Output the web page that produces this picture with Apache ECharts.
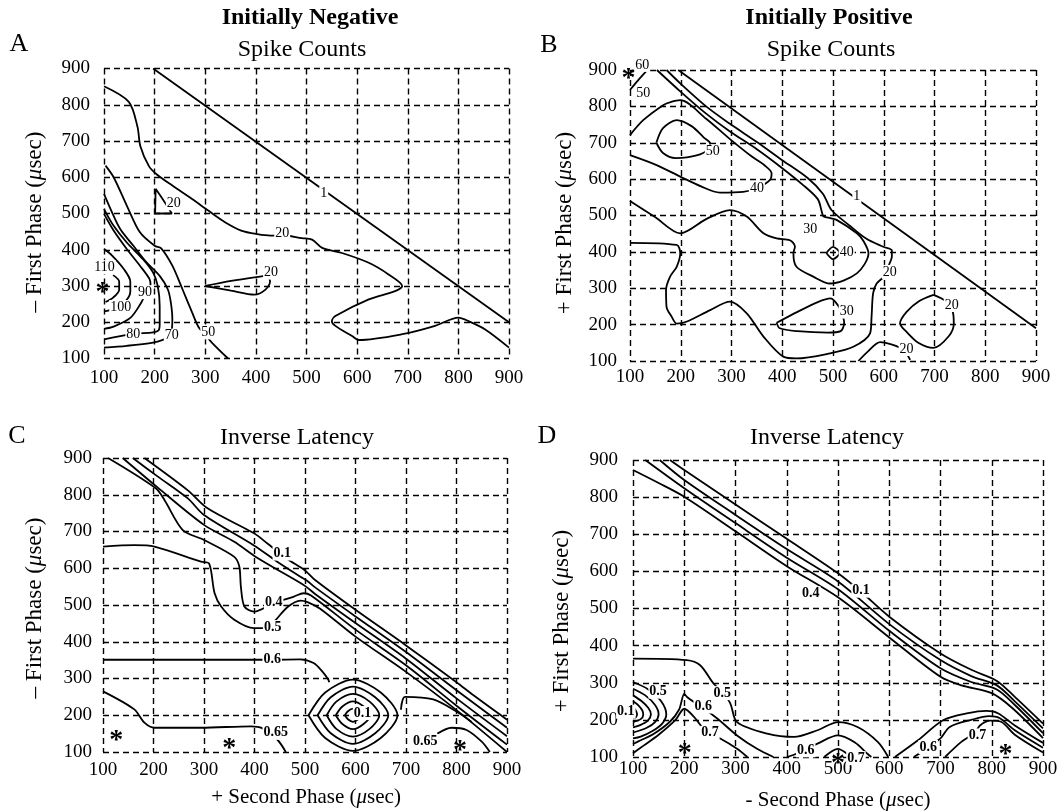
<!DOCTYPE html>
<html>
<head>
<meta charset="utf-8">
<title>Spike counts and inverse latency</title>
<style>
    * { margin: 0; padding: 0; }
    html, body { background: #fff; }
    #main { width: 1061px; height: 812px; }
</style>
</head>
<body>
<div id="main"></div>
<script src="https://cdn.jsdelivr.net/npm/echarts@6.0.0/dist/echarts.min.js"></script>
<script>
// axis ticks (both axes, all panels), in usec
var tickValues = [100, 200, 300, 400, 500, 600, 700, 800, 900];

// ---- A: initially negative, spike counts ----
var aLevel1 = [[197,900],[900,200]];
var aLevel20 = [[100,851],[149,808],[166,740],[172,685],[189,630],[205,607],[235,577],[274,540],[306,508],[339,476],[371,453],[403,443],[429,439],[452,440],[491,432],[511,428],[531,405],[570,391],[623,364],[662,332],[689,300],[675,286],[623,263],[557,217],[550,203],[557,190],[590,162],[603,151],[689,167],[754,190],[800,213],[820,203],[853,180],[900,130]];
var aLevel20Tri = [[202,568],[201,500],[234,500],[218,535],[202,568]];
var aLevel20Loop = [[300,300],[351,314],[397,324],[422,328],[428,312],[419,290],[397,276],[351,287],[300,300]];
var aLevel50 = [[103,632],[119,600],[145,522],[171,448],[200,411],[213,404],[235,356],[255,291],[274,227],[287,186],[300,166],[313,144],[345,100]];
var aLevel70 = [[100,554],[113,512],[132,457],[158,411],[184,365],[210,328],[226,291],[232,255],[235,209],[234,181],[226,158],[219,153],[197,144],[145,135],[100,130]];
var aLevel80 = [[100,512],[119,466],[145,420],[177,374],[197,337],[206,301],[210,245],[210,195],[208,178],[197,172],[158,168],[100,153]];
var aLevel90 = [[100,499],[119,453],[145,402],[171,356],[190,319],[192,300],[183,280],[171,248],[152,212],[119,188],[100,182]];
var aLevel100 = [[100,402],[116,384],[139,347],[152,312],[152,285],[145,262],[130,245],[110,233],[100,230]];
var aLevel110 = [[118,330],[130,312],[130,290],[118,268],[103,256]];
var aLabels = [[534,556,'1'],[452,444,'20'],[238,528,'20'],[430,337,'20'],[306,172,'50'],[234,163,'70'],[158,167,'80'],[181,283,'90'],[133,242,'100'],[101,352,'110']];
var aStars = [[97,304]];

// ---- B: initially positive, spike counts ----
var bLevel1 = [[195,900],[900,190]];
var bLevel20 = [[172,900],[200,862],[250,800],[297,752],[350,702],[400,652],[450,603],[480,560],[497,515],[533,472],[566,436],[599,414],[616,404],[616,388],[609,360],[605,345],[599,330],[586,313],[579,286],[576,222],[573,176],[540,139],[494,121],[428,107],[402,112],[363,167],[330,231],[297,263],[258,240],[211,208],[192,203],[182,222],[172,249],[171,295],[179,332],[192,359],[199,396],[192,419],[100,425]];
var bLevel30 = [[100,540],[150,495],[199,451],[250,490],[297,515],[330,497],[363,451],[389,437],[415,432],[425,415],[422,396],[428,359],[461,332],[494,313],[547,341],[570,396],[560,430],[547,451],[507,488],[491,494],[481,498],[478,510],[470,545],[440,585],[400,630],[350,682],[297,731],[250,780],[200,840],[153,900]];
var bLevel40 = [[100,666],[150,640],[199,607],[240,580],[277,563],[323,565],[350,575],[376,598],[379,616],[365,638],[340,662],[297,710],[250,766],[199,817],[180,812],[166,804],[126,762],[100,721]];
var bLevel40Peak = [[487,397],[500,414],[513,397],[500,380],[487,397]];
var bLevel50Loop = [[152,700],[165,740],[192,762],[222,745],[245,715],[258,698],[252,680],[238,668],[212,660],[190,658],[165,672],[152,700]];
var bLevel50Corner = [[100,845],[115,870],[133,898]];
var bLevel20Right = [[698,282],[722,265],[736,235],[738,203],[728,168],[698,136],[668,150],[645,180],[632,203],[645,235],[670,265],[698,282]];
var bLevel20Bottom = [[550,100],[570,128],[593,152],[615,146],[630,138],[645,120],[652,103]];
var bLevel30Low = [[389,205],[430,235],[470,262],[495,272],[505,262],[515,240],[522,205],[515,182],[490,178],[430,182],[395,190],[389,205]];
var bLabels = [[547,552,'1'],[612,345,'20'],[455,462,'30'],[350,575,'40'],[527,400,'40'],[263,676,'50'],[126,836,'50'],[124,914,'60'],[734,254,'20'],[645,133,'20'],[527,236,'30']];
var bStars = [[97,899]];

// ---- C: initially negative, inverse latency ----
var cLevel01 = [[182,900],[268,812],[307,763],[399,695],[425,668],[465,625],[500,594],[520,568],[600,487],[700,390],[800,290],[833,255],[900,188]];
var cLevel02 = [[159,900],[208,850],[268,790],[300,745],[399,662],[445,618],[491,577],[504,566],[520,548],[600,469],[700,372],[800,268],[900,166]];
var cLevel03 = [[139,900],[208,820],[300,718],[360,672],[406,628],[491,560],[504,548],[520,530],[600,451],[700,354],[800,246],[900,143]];
var cLevel04 = [[110,900],[205,817],[222,785],[258,704],[300,677],[360,631],[370,604],[373,550],[380,496],[399,482],[438,505],[478,523],[497,532],[512,526],[600,433],[700,336],[800,226],[900,120]];
var cLevel05 = [[100,659],[162,663],[202,659],[294,618],[310,613],[321,532],[334,496],[360,460],[399,437],[420,437],[439,455],[465,494],[491,512],[505,508],[530,490],[600,414],[700,318],[800,214],[900,100]];
var cLevel06 = [[100,351],[202,351],[399,351],[435,351],[491,352],[517,342],[535,318],[546,297],[548,290]];
var cLevel06Right = [[690,215],[698,250],[754,243],[800,210],[830,182]];
var cRing1 = [[507,200],[540,262],[595,297],[650,262],[683,200],[650,138],[595,103],[540,138],[507,200]];
var cRing2 = [[525,200],[551,249],[595,278],[639,249],[665,200],[639,151],[595,122],[551,151],[525,200]];
var cRing3 = [[543,200],[562,237],[595,258],[628,237],[647,200],[628,163],[595,142],[562,163],[543,200]];
var cRing4 = [[561,200],[574,224],[595,238],[616,224],[629,200],[616,176],[595,162],[574,176],[561,200]];
var cRing5 = [[579,200],[585,211],[595,218],[605,211],[611,200],[605,189],[595,182],[585,189],[579,200]];
var cLevel065 = [[100,265],[162,216],[182,180],[202,166],[294,166],[393,170],[415,165],[445,134],[462,100]];
var cLevel065Right = [[762,150],[790,166],[820,160],[850,128],[866,100]];
var cLabels = [[455,640,'0.1'],[438,507,'0.4'],[436,440,'0.5'],[435,351,'0.6'],[614,206,'0.1'],[442,152,'0.65'],[738,130,'0.65']];
var cStars = [[126,152],[350,130],[807,125]];

// ---- D: initially positive, inverse latency ----
var dLevel01 = [[172,900],[200,873],[300,780],[400,688],[500,595],[545,545],[600,478],[700,379],[760,335],[810,305],[845,262],[900,190]];
var dLevel02 = [[152,900],[200,846],[300,752],[400,660],[500,573],[600,458],[700,361],[760,318],[810,293],[845,250],[900,177]];
var dLevel03 = [[124,900],[200,824],[300,730],[400,637],[500,552],[600,440],[700,339],[760,302],[810,282],[845,240],[900,164]];
var dLevel04 = [[100,873],[150,838],[200,801],[300,708],[400,614],[500,530],[600,422],[700,316],[741,293],[800,272],[840,232],[900,151]];
var dLevel05 = [[100,365],[205,361],[231,347],[257,298],[274,275],[290,244],[303,194],[362,163],[414,154],[460,172],[500,194],[539,180],[578,140],[598,100]];
var dLevel05Right = [[611,100],[656,145],[705,199],[754,218],[790,224],[812,218],[845,185],[900,138]];
var dLevel06Right = [[648,100],[664,114],[676,127],[700,150],[718,181],[760,200],[795,210],[815,205],[845,172],[900,125]];
var dLevel07Right = [[709,100],[740,140],[767,165],[777,185],[797,198],[818,195],[845,160],[900,112]];
var dLevel06Spike = [[100,135],[115,145],[140,162],[172,195],[190,228],[200,270],[206,261],[219,248],[237,232],[265,203],[303,158],[342,122],[374,100]];
var dLevel07Spike = [[100,110],[120,130],[150,160],[183,200],[200,230],[219,208],[245,165],[271,149],[303,122],[323,100]];
var dLevel06Mid = [[400,100],[414,106],[437,120],[460,136],[500,158],[533,139],[558,108],[565,100]];
var dLevel07Mid = [[473,100],[500,122],[519,108],[528,100]];
var dArc1 = [[100,302],[130,282],[155,250],[165,215],[157,190],[138,170],[115,155],[100,150]];
var dArc2 = [[100,284],[124,266],[143,240],[150,215],[143,194],[126,178],[100,166]];
var dArc3 = [[100,266],[117,250],[130,232],[135,215],[129,198],[114,186],[100,180]];
var dArc4 = [[100,250],[110,240],[118,226],[120,214],[115,202],[100,194]];
var dArc5 = [[100,234],[105,226],[108,215],[105,206],[100,204]];
var dLabels = [[545,548,'0.1'],[447,541,'0.4'],[149,276,'0.5'],[86,222,'0.1'],[274,272,'0.5'],[237,236,'0.6'],[250,165,'0.7'],[437,118,'0.6'],[535,97,'0.7'],[676,127,'0.6'],[772,158,'0.7']];
var dStars = [[201,131],[500,104],[827,127]];

var panelLines = [
    [aLevel1, aLevel20, aLevel20Tri, aLevel20Loop, aLevel50, aLevel70, aLevel80, aLevel90, aLevel100, aLevel110],
    [bLevel1, bLevel20, bLevel30, bLevel40, bLevel40Peak, bLevel50Loop, bLevel50Corner, bLevel20Right, bLevel20Bottom, bLevel30Low],
    [cLevel01, cLevel02, cLevel03, cLevel04, cLevel05, cLevel06, cLevel06Right, cRing1, cRing2, cRing3, cRing4, cRing5, cLevel065, cLevel065Right],
    [dLevel01, dLevel02, dLevel03, dLevel04, dLevel05, dLevel05Right, dLevel06Right, dLevel07Right, dLevel06Spike, dLevel07Spike, dLevel06Mid, dLevel07Mid, dArc1, dArc2, dArc3, dArc4, dArc5]
];
var panelLabels = [aLabels, bLabels, cLabels, dLabels];
var panelStars = [aStars, bStars, cStars, dStars];

var serif = '"Liberation Serif", "DejaVu Serif", serif';
var ink = '#000';

var grids = [
    {left: 104, top: 68.5, width: 405, height: 290},
    {left: 630, top: 70, width: 406, height: 291},
    {left: 103, top: 458, width: 404, height: 294},
    {left: 633, top: 460, width: 410, height: 297}
];
var xMargins = [10, 7, 9, 3];
var yMargins = [14, 13, 11, 15];

function makeAxis(i, margin) {
    return {
        gridIndex: i,
        type: 'value',
        min: tickValues[0],
        max: tickValues[tickValues.length - 1],
        interval: tickValues[1] - tickValues[0],
        axisLine: {show: false},
        axisTick: {show: false},
        splitLine: {show: true, lineStyle: {color: '#000', width: 1.4, type: [6, 4]}},
        axisLabel: {color: ink, fontFamily: serif, fontSize: 19, margin: margin}
    };
}

var xAxes = [], yAxes = [], series = [];
for (var i = 0; i < 4; i++) {
    xAxes.push(makeAxis(i, xMargins[i]));
    yAxes.push(makeAxis(i, yMargins[i]));
    panelLines[i].forEach(function (pts) {
        series.push({
            type: 'line', xAxisIndex: i, yAxisIndex: i, data: pts,
            symbol: 'none', smooth: 0.3, silent: true, z: 3,
            lineStyle: {color: ink, width: 1.8}
        });
    });
    series.push({
        type: 'scatter', xAxisIndex: i, yAxisIndex: i, data: panelLabels[i],
        symbolSize: 1, itemStyle: {color: '#fff', opacity: 1}, clip: false, silent: true, z: 5,
        label: {
            show: true, position: 'inside', color: ink, opacity: 1, fontFamily: serif,
            fontSize: 14, fontWeight: i >= 2 ? 'bold' : 'normal',
            backgroundColor: '#fff', padding: [0, 1],
            formatter: function (p) { return p.data[2]; }
        }
    });
    series.push({
        type: 'scatter', xAxisIndex: i, yAxisIndex: i, data: panelStars[i],
        symbolSize: 1, itemStyle: {color: '#fff', opacity: 1}, clip: false, silent: true, z: 5,
        label: {
            show: true, position: 'inside', color: ink, opacity: 1, fontFamily: serif,
            fontSize: 28, fontWeight: 'bold', offset: [0, 8], formatter: '*'
        }
    });
}

function txt(x, y, text, size, weight, rot) {
    return {
        type: 'text', x: x, y: y, rotation: rot || 0, silent: true,
        style: {
            text: text, fill: ink, fontFamily: serif, fontSize: size, fontWeight: weight || 'normal',
            textAlign: 'center', textVerticalAlign: 'middle', align: 'center', verticalAlign: 'middle',
            rich: {i: {fontStyle: 'italic', fontFamily: serif, fontSize: size, fill: ink}}
        }
    };
}

var graphics = [
    txt(19, 44, 'A', 26), txt(549, 45, 'B', 26), txt(17, 436, 'C', 26), txt(547, 436, 'D', 26),
    txt(310, 18, 'Initially Negative', 24, 'bold'), txt(302, 50, 'Spike Counts', 24),
    txt(829, 18, 'Initially Positive', 24, 'bold'), txt(831, 50, 'Spike Counts', 24),
    txt(297, 438, 'Inverse Latency', 24), txt(827, 438, 'Inverse Latency', 24),
    txt(35, 222, '\u2013 First Phase ({i|\u03bc}sec)', 23, 'normal', Math.PI / 2),
    txt(565, 223, '+ First Phase ({i|\u03bc}sec)', 23, 'normal', Math.PI / 2),
    txt(35, 608, '\u2013 First Phase ({i|\u03bc}sec)', 23, 'normal', Math.PI / 2),
    txt(562, 621, '+ First Phase ({i|\u03bc}sec)', 23, 'normal', Math.PI / 2),
    txt(306, 797, '+ Second Phase ({i|\u03bc}sec)', 21),
    txt(838, 800, '- Second Phase ({i|\u03bc}sec)', 21)
];

var myChart = echarts.init(document.getElementById('main'));
myChart.setOption({
    backgroundColor: '#fff',
    animation: false,
    grid: grids,
    xAxis: xAxes,
    yAxis: yAxes,
    series: series,
    graphic: graphics
});
</script>
</body>
</html>
